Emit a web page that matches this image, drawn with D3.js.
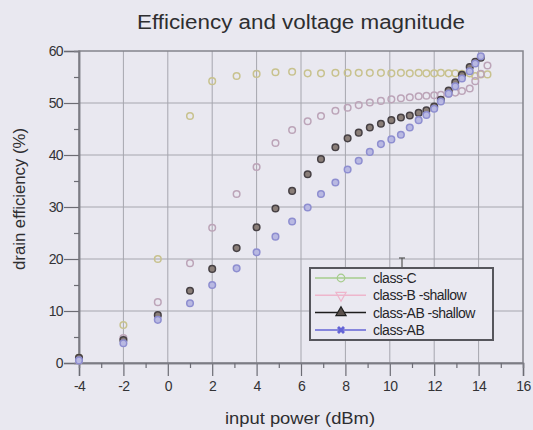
<!DOCTYPE html>
<html>
<head>
<meta charset="utf-8">
<script src="https://cdn.jsdelivr.net/npm/d3@7"></script>
<style>
  html, body { margin: 0; padding: 0; background: #e9e8f0; }
  svg { display: block; font-family: "Liberation Sans", Arial, sans-serif; }
</style>
</head>
<body>
<div id="chart"></div>
<script>
// input power sweep (dBm)
const inputPower = [-4, -2, -0.45, 1, 2, 3.1, 4, 4.85, 5.6, 6.3, 6.9, 7.55, 8.1, 8.6, 9.1, 9.6,
  10.07, 10.5, 10.9, 11.3, 11.65, 12.0, 12.3, 12.65, 12.95, 13.25, 13.6, 13.85, 14.1, 14.4];

const classC = [1, 7.3, 20, 47.5, 54.2, 55.2, 55.6, 55.9, 56, 55.7, 55.7, 55.8, 55.8, 55.8, 55.8, 55.8,
  55.7, 55.8, 55.7, 55.8, 55.7, 55.7, 55.8, 55.7, 55.7, 55.6, 55.7, 55.2, 55.5, 55.5];
const classBShallow = [0.5, 4.8, 11.7, 19.2, 26, 32.5, 37.7, 42.3, 44.8, 46.5, 47.5, 48.5, 49.1, 49.6, 50.1, 50.4,
  50.7, 50.9, 51.1, 51.3, 51.4, 51.5, 51.6, 51.8, 52.0, 52.3, 52.8, 54.2, 55.6, 57.2];
const classABShallow = [1, 4.4, 9.2, 13.9, 18.1, 22.1, 26.1, 29.7, 33.1, 36.3, 39.2, 41.5, 43.2, 44.3, 45.3, 46.0,
  46.7, 47.2, 47.6, 48.1, 48.6, 49.3, 50.6, 52.4, 54.0, 55.4, 56.9, 57.9, 58.7];
const classAB = [0.5, 3.8, 8.3, 11.5, 15, 18.2, 21.3, 24.3, 27.2, 29.9, 32.5, 34.7, 37.2, 38.9, 40.6, 42.1,
  43.0, 43.9, 45.3, 46.7, 47.7, 48.9, 50.3, 51.8, 53.2, 54.7, 56.1, 57.6, 59.0];

const seriesNames = ["class-C", "class-B -shallow", "class-AB -shallow", "class-AB"];
const xTicks = [-4, -2, 0, 2, 4, 6, 8, 10, 12, 14, 16];
const yTicks = [0, 10, 20, 30, 40, 50, 60];

const width = 533, height = 430;
const svg = d3.select("#chart").append("svg")
  .attr("width", width)
  .attr("height", height);

const x = d3.scaleLinear().domain([-4, 16]).range([79, 523]);
const y = d3.scaleLinear().domain([0, 60]).range([363, 51]);

const series = [
  { name: seriesNames[0], values: classC, stroke: "#c8c28e", fill: "none", line: "#a6cc8c", sym: "circle" },
  { name: seriesNames[1], values: classBShallow, stroke: "#bca4b8", fill: "none", line: "#eeb6cc", sym: "tridown" },
  { name: seriesNames[2], values: classABShallow, stroke: "#464044", fill: "#8a7e78", line: "#1e1e1e", sym: "triup" },
  { name: seriesNames[3], values: classAB, stroke: "#8e8ed0", fill: "#b9b9e2", line: "#6464d6", sym: "x" }
];

// grid
const grid = svg.append("g").attr("stroke", "#a6a6ae").attr("stroke-width", 1);
grid.selectAll(".gx").data(xTicks.slice(1, -1)).enter().append("line")
  .attr("x1", d => x(d)).attr("x2", d => x(d))
  .attr("y1", y(0)).attr("y2", y(60));
grid.selectAll(".gy").data(yTicks.slice(1, -1)).enter().append("line")
  .attr("x1", x(-4)).attr("x2", x(16))
  .attr("y1", d => y(d)).attr("y2", d => y(d));

// frame
svg.append("rect")
  .attr("x", x(-4)).attr("y", y(60))
  .attr("width", x(16) - x(-4)).attr("height", y(0) - y(60))
  .attr("fill", "none").attr("stroke", "#84848c").attr("stroke-width", 1.5);

// axes
const xAxis = svg.append("g")
  .attr("transform", `translate(0,${y(0)})`)
  .call(d3.axisBottom(x).tickValues(xTicks).tickSize(13).tickPadding(5).tickFormat(d => String(d)));
const xMinor = svg.append("g")
  .attr("transform", `translate(0,${y(0)})`)
  .call(d3.axisBottom(x).tickValues(d3.range(-3, 16, 2)).tickSize(5).tickFormat(""));
const yAxis = svg.append("g")
  .attr("transform", `translate(${x(-4)},0)`)
  .call(d3.axisLeft(y).tickValues(yTicks).tickSize(15).tickPadding(1));
const yMinor = svg.append("g")
  .attr("transform", `translate(${x(-4)},0)`)
  .call(d3.axisLeft(y).tickValues(d3.range(5, 60, 10)).tickSize(5).tickFormat(""));

[xAxis, xMinor, yAxis, yMinor].forEach(g => {
  g.select(".domain").attr("stroke", "#7c7c84").attr("stroke-width", 1.5);
  g.selectAll(".tick line").attr("stroke", "#6c6c74").attr("stroke-width", 1.2);
  g.selectAll("text")
    .attr("font-size", "14px")
    .attr("font-family", "Liberation Sans, Arial, sans-serif")
    .attr("fill", "#333336")
    .attr("letter-spacing", "-0.6px");
});

// markers
const symTypes = { circle: d3.symbolCircle, triup: d3.symbolTriangle, tridown: d3.symbolTriangle, x: d3.symbolCross };

series.forEach(s => {
  const pts = s.values.map((v, i) => [inputPower[i], v]);
  svg.append("g").selectAll("circle")
    .data(pts).enter().append("circle")
    .attr("cx", d => x(d[0]))
    .attr("cy", d => y(d[1]))
    .attr("r", 3.3)
    .attr("fill", s.fill)
    .attr("stroke", s.stroke)
    .attr("stroke-width", 1.5);
});

// title and axis labels
svg.append("text")
  .attr("x", 301).attr("y", 29)
  .attr("text-anchor", "middle")
  .attr("font-size", "20px")
  .attr("fill", "#2e2e30")
  .attr("textLength", 328)
  .attr("lengthAdjust", "spacingAndGlyphs")
  .text("Efficiency and voltage magnitude");

svg.append("text")
  .attr("x", 300).attr("y", 424)
  .attr("text-anchor", "middle")
  .attr("font-size", "16px")
  .attr("fill", "#2e2e30")
  .attr("textLength", 150)
  .attr("lengthAdjust", "spacingAndGlyphs")
  .text("input power (dBm)");

svg.append("text")
  .attr("transform", "translate(25,199) rotate(-90)")
  .attr("text-anchor", "middle")
  .attr("font-size", "16px")
  .attr("fill", "#2e2e30")
  .attr("textLength", 142)
  .attr("lengthAdjust", "spacingAndGlyphs")
  .text("drain efficiency (%)");

// small cursor mark above the legend
svg.append("line")
  .attr("x1", 402).attr("x2", 402).attr("y1", 258).attr("y2", 268)
  .attr("stroke", "#555").attr("stroke-width", 1.2);
svg.append("line")
  .attr("x1", 399).attr("x2", 405).attr("y1", 258).attr("y2", 258)
  .attr("stroke", "#555").attr("stroke-width", 1.2);

// legend
const legend = svg.append("g").attr("transform", "translate(310,268)");
legend.append("rect")
  .attr("width", 183).attr("height", 72)
  .attr("fill", "#eae9f1")
  .attr("stroke", "#56565c").attr("stroke-width", 2);

const items = legend.selectAll(".legend-item")
  .data(series)
  .enter().append("g")
  .attr("class", "legend-item")
  .attr("transform", (d, i) => `translate(0,${10 + i * 17.3})`);

items.append("line")
  .attr("x1", 5).attr("x2", 56)
  .attr("stroke", d => d.line).attr("stroke-width", 1.5);

items.append("path")
  .attr("transform", d => `translate(31,0)${d.sym === "tridown" ? " rotate(180)" : ""}${d.sym === "x" ? " rotate(45)" : ""}`)
  .attr("d", d => d3.symbol().type(symTypes[d.sym]).size(d.sym === "x" ? 40 : 45)())
  .attr("fill", d => d.sym === "triup" ? "#5a504c" : (d.sym === "x" ? d.line : "none"))
  .attr("stroke", d => d.line)
  .attr("stroke-width", d => d.sym === "x" ? 0 : 1.2);

items.append("text")
  .attr("x", 63).attr("y", 5)
  .attr("font-size", "14px")
  .attr("fill", "#26262a")
  .attr("letter-spacing", "-0.5px")
  .text(d => d.name);
</script>
</body>
</html>
